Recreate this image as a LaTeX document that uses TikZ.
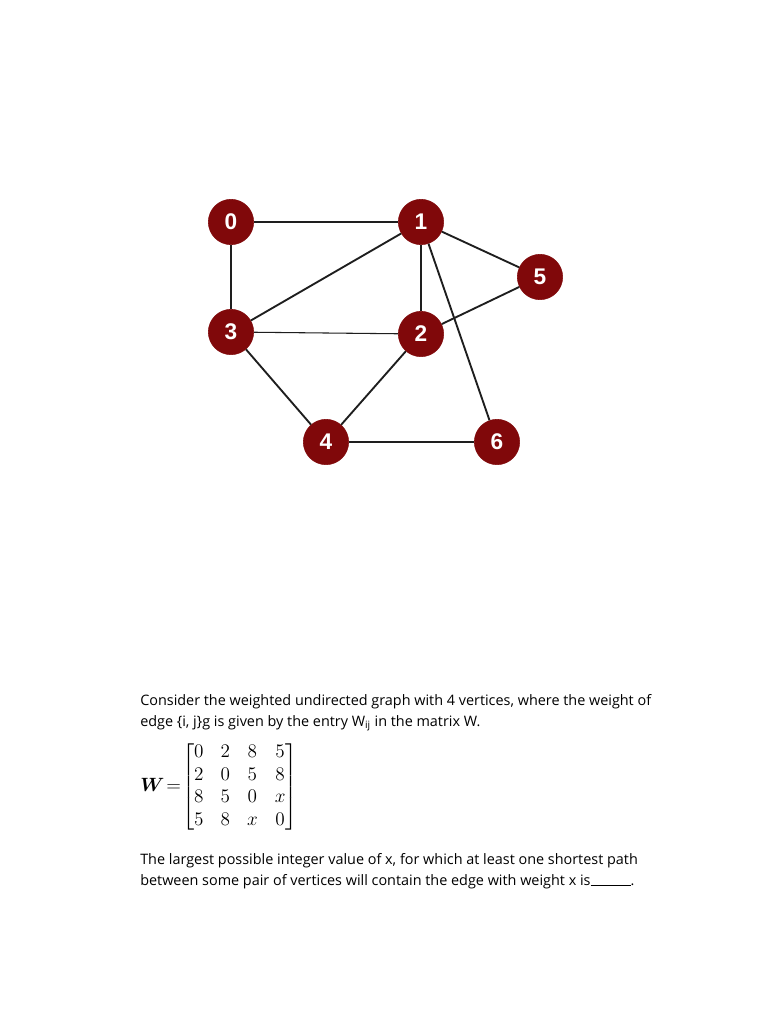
\documentclass[tikz,border=0pt]{standalone}
\usepackage{amsmath, amssymb, bm}
\usepackage{fontspec}
\setsansfont{Open Sans}
\newfontfamily\numfont{Liberation Sans}
\usetikzlibrary{positioning}
\definecolor{vxred}{RGB}{128, 8, 10}
\definecolor{ink}{RGB}{30, 30, 30}

\begin{document}
\begin{tikzpicture}[x=0.75pt, y=-0.75pt,
      vx/.style={circle, fill=vxred, draw=vxred, minimum size=34pt, inner sep=0pt,
                 text=white, font=\numfont\bfseries\fontsize{17}{17}\selectfont},
      ed/.style={line width=1.4pt, color=ink},
      txt/.style={anchor=north west, align=left, inner sep=0pt,
                  font=\sffamily\fontsize{10.8}{15.75}\selectfont}]
    \useasboundingbox[fill=white] (0,0) rectangle (768,1024);
    % vertices
    \node[vx] (v0) at (231,222) {0};
    \node[vx] (v1) at (421,222) {1};
    \node[vx] (v5) at (540,277) {5};
    \node[vx] (v3) at (231,332) {3};
    \node[vx] (v2) at (421,334) {2};
    \node[vx] (v4) at (326,442) {4};
    \node[vx] (v6) at (497,442) {6};
    % edges
    \draw[ed] (v0) -- (v1);
    \draw[ed] (v0) -- (v3);
    \draw[ed] (v1) -- (v3);
    \draw[ed] (v1) -- (v2);
    \draw[ed] (v1) -- (v5);
    \draw[ed] (v1) -- (v6);
    \draw[line width=0.8pt, color=ink] (v3) -- (v2);
    \draw[ed] (v2) -- (v5);
    \draw[ed] (v3) -- (v4);
    \draw[ed] (v2) -- (v4);
    \draw[ed] (v4) -- (v6);
    % question text
    \node[txt] (q1) at (140,694) {Consider the weighted undirected graph with 4 vertices, where the weight of\\
      edge \{i, j\}g is given by the entry W\textsubscript{ij} in the matrix W.};
    \node[anchor=west, inner sep=0pt] (mat) at (140,787) {%
      \fontsize{13.5}{16.5}\selectfont
      \setlength{\arraycolsep}{6.4pt}\renewcommand{\arraystretch}{1.03}%
      $\bm{W} \mskip-3mu=\mskip-4mu \begin{bmatrix} 0 & 2 & 8 & 5\\ 2 & 0 & 5 & 8\\ 8 & 5 & 0 & x\\ 5 & 8 & x & 0 \end{bmatrix}$};
    \node[txt] (q2) at (140,853) {The largest possible integer value of x, for which at least one shortest path\\
      between some pair of vertices will contain the edge with weight x is\rule[-0.5pt]{30pt}{0.4pt}.};
  \end{tikzpicture}
\end{document}
